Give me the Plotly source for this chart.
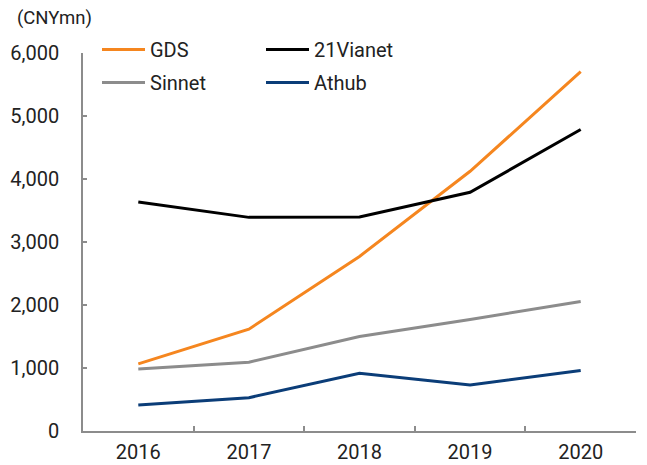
import plotly.graph_objects as go

years = ["2016", "2017", "2018", "2019", "2020"]
gds = [1065, 1617, 2771, 4122, 5703]
vianet = [3636, 3391, 3397, 3789, 4785]
sinnet = [986, 1092, 1499, 1770, 2056]
athub = [413, 529, 917, 731, 959]

y_ticks = [0, 1000, 2000, 3000, 4000, 5000, 6000]
y_tick_text = ["0", "1,000", "2,000", "3,000", "4,000", "5,000", "6,000"]

FONT = "Roboto"
TXT = "#222222"
AXIS = "#8c8c8c"

# page body has an 8px margin, so the figure is a bit smaller than the window
W, H = 639, 457

fig = go.Figure()

# left legend column: GDS, Sinnet / right column: 21Vianet, Athub
series = [
    ("GDS", gds, "#f5861f", "legend", "a"),
    ("21Vianet", vianet, "#000000", "legend2", "c"),
    ("Sinnet", sinnet, "#8c8c8c", "legend", "b"),
    ("Athub", athub, "#0b3d78", "legend2", "d"),
]
for name, vals, color, leg, grp in series:
    fig.add_trace(go.Scatter(
        x=years, y=vals, mode="lines", name=name,
        line=dict(color=color, width=3),
        legend=leg, legendgroup=grp,
    ))

legend_style = dict(
    xref="container", yref="container",
    xanchor="left", yanchor="top",
    bgcolor="rgba(0,0,0,0)",
    font=dict(family=FONT, size=20, color=TXT),
    itemwidth=43, tracegroupgap=4,
    traceorder="grouped",
)

fig.update_layout(
    width=W, height=H,
    margin=dict(l=75, r=11, t=45, b=34, autoexpand=False),
    paper_bgcolor="white", plot_bgcolor="white",
    font=dict(family=FONT, size=20, color=TXT),
    showlegend=True,
    legend=dict(x=89 / W, y=1 - 22 / H, **legend_style),
    legend2=dict(x=253 / W, y=1 - 22 / H, **legend_style),
    xaxis=dict(
        type="category", range=[-0.5, 4.5], showgrid=False, zeroline=False,
        showline=True, linecolor=AXIS, linewidth=1.5,
        ticks="inside", ticklen=5, tickcolor=AXIS, tickwidth=1.5,
        tickson="boundaries", ticklabelstandoff=2, tickangle=0,
        tickfont=dict(family=FONT, size=20, color=TXT),
    ),
    yaxis=dict(
        range=[0, 6000], showgrid=False, zeroline=False,
        showline=True, linecolor=AXIS, linewidth=1.5,
        ticks="inside", ticklen=4, tickcolor=AXIS, tickwidth=1.5,
        tickvals=y_ticks, ticktext=y_tick_text, ticklabelstandoff=18,
        tickfont=dict(family=FONT, size=20, color=TXT),
    ),
    annotations=[dict(
        text="(CNYmn)", xref="paper", yref="paper",
        x=(7 - 75) / 553, y=1 + 35 / 378, xanchor="left", yanchor="middle",
        showarrow=False, font=dict(family=FONT, size=18.5, color=TXT),
    )],
)

fig.write_html("out.html")
